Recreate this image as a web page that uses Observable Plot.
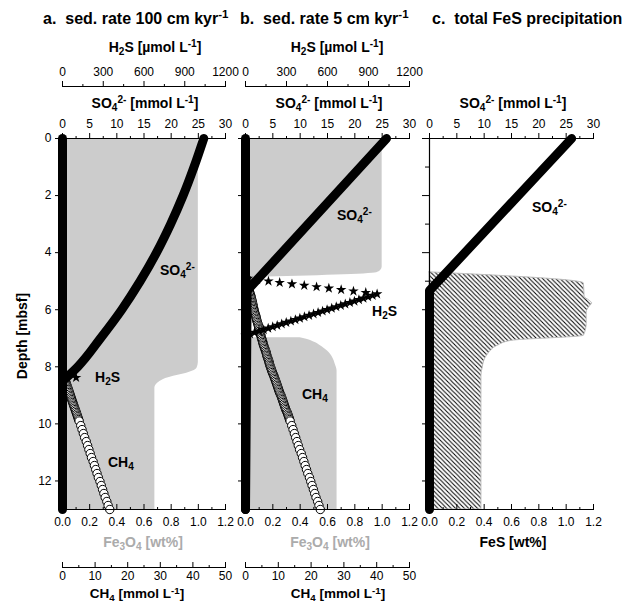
<!DOCTYPE html>
<html><head><meta charset="utf-8">
<script src="https://cdn.jsdelivr.net/npm/d3@7"></script>
<script src="https://cdn.jsdelivr.net/npm/@observablehq/plot@0.6"></script>
<style>
body{margin:0;background:#fff;}
#chart{position:relative;width:629px;height:605px;overflow:hidden;font-family:"Liberation Sans",Arial,sans-serif;}
#chart svg{position:absolute;left:0;top:0;}
.lbl{position:absolute;white-space:nowrap;line-height:1;}
.lbl sub{font-size:0.72em;position:relative;top:0.28em;vertical-align:baseline;line-height:0;}
.lbl sup{font-size:0.72em;position:relative;top:-0.5em;vertical-align:baseline;line-height:0;}
</style></head><body><div id="chart"></div>
<script>
// ---------- data (depth [mbsf], value) ----------
// panel a: sed. rate 100 cm/kyr
const so4A = [[0,26.0],[1,24.2],[2,22.2],[3,19.9],[4,17.3],[5,14.3],[6,10.9],[7,7.0],[8,2.8],[8.4,0.6]];
const fe3o4A = [[0,1.0],[7.85,1.0],[8.05,0.99],[8.15,0.96],[8.45,0.74],[8.58,0.70],[8.75,0.68],[13,0.68]];
const h2sA = [[8.38,100]];
const h2sZero = [[0,0],[13,0]];
const ch4A = [[8.35,0.45],[8.40,0.60],[8.45,0.75],[8.50,0.90],[8.55,1.05],[8.60,1.20],[8.65,1.35],[8.70,1.50],[8.75,1.65],[8.80,1.80],[8.85,1.95],[8.90,2.10],[8.95,2.25],[9.00,2.40],[9.05,2.55],[9.10,2.70],[9.15,2.85],[9.20,3.00],[9.25,3.15],[9.30,3.30],[9.35,3.45],[9.40,3.60],[9.45,3.75],[9.50,3.90],[9.55,4.05],[9.60,4.20],[9.65,4.35],[9.70,4.50],[9.75,4.65],[9.80,4.80],[9.85,4.95],[9.90,5.10],
  [10.06,5.6],[10.20,6.0],[10.34,6.4],[10.48,6.8],[10.62,7.3],[10.76,7.7],[10.90,8.1],[11.04,8.5],[11.18,8.9],[11.32,9.4],[11.46,9.8],[11.60,10.2],[11.74,10.6],[11.88,11.0],[12.02,11.5],[12.16,11.9],[12.30,12.3],[12.44,12.7],[12.58,13.1],[12.72,13.6],[12.86,14.0],[13.00,14.5]];
// panel b: sed. rate 5 cm/kyr
const so4B = [[0,25.8],[5.33,0.3],[13,0]];
const fe3o4Bupper = [[0,1.0],[4.5,1.0],[4.62,0.99],[4.70,0.96],[4.87,0.0]];
const fe3o4Blower = [[6.98,0.40],[7.05,0.46],[7.15,0.51],[7.3,0.56],[7.45,0.60],[7.7,0.64],[7.9,0.656],[8.15,0.67],[13,0.67]];
const h2sB = [[4.90,20],[4.95,85],[5.00,168],[5.05,250],[5.10,340],[5.15,430],[5.20,520],[5.25,610],[5.30,700],[5.35,790],[5.40,880],[5.45,963],
  [5.50,930],[5.55,897],[5.60,863],[5.65,830],[5.70,797],[5.75,764],[5.80,730],[5.85,697],[5.90,664],[5.95,631],[6.00,597],[6.05,564],[6.10,531],[6.15,498],[6.20,465],[6.25,431],[6.30,398],[6.35,365],[6.40,332],[6.45,298],[6.50,265],[6.55,232],[6.60,199],[6.65,166],[6.70,133],[6.75,99],[6.80,66],[6.85,33],[6.90,0]];
const ch4B = [[4.90,0.3],[4.95,0.4],[5.00,0.5],[5.05,0.6],[5.10,0.7],[5.15,0.8],[5.20,0.9],[5.25,1.0],[5.30,1.1],[5.35,1.2],[5.40,1.3],[5.45,1.45],[5.50,1.6],[5.55,1.7],[5.60,1.8],[5.65,1.9],[5.70,2.0],[5.75,2.1],[5.80,2.2],[5.85,2.3],[5.90,2.4],[5.95,2.5],
  [6.00,2.6],[6.05,2.7],[6.10,2.8],[6.15,2.95],[6.20,3.1],[6.25,3.2],[6.30,3.3],[6.35,3.4],[6.40,3.5],[6.45,3.65],[6.50,3.8],[6.55,3.9],[6.60,4.0],[6.65,4.1],[6.70,4.2],[6.75,4.3],[6.80,4.4],[6.85,4.55],[6.90,4.7],[6.95,4.8],
  [7.00,4.9],[7.05,5.05],[7.10,5.2],[7.15,5.3],[7.20,5.4],[7.25,5.55],[7.30,5.7],[7.35,5.85],[7.40,6.0],[7.45,6.15],[7.50,6.3],[7.55,6.4],[7.60,6.5],[7.65,6.65],[7.70,6.8],[7.75,6.95],[7.80,7.1],[7.85,7.2],[7.90,7.3],[7.95,7.45],
  [8.00,7.6],[8.05,7.75],[8.10,7.9],[8.15,8.05],[8.20,8.2],[8.25,8.4],[8.30,8.6],[8.35,8.75],[8.40,8.9],[8.45,9.05],[8.50,9.2],[8.55,9.35],[8.60,9.5],[8.65,9.65],[8.70,9.8],[8.75,9.95],[8.80,10.1],[8.85,10.25],[8.90,10.4],[8.95,10.6],
  [9.00,10.8],[9.05,10.95],[9.10,11.1],[9.15,11.25],[9.20,11.4],[9.25,11.55],[9.30,11.7],[9.35,11.85],[9.40,12.0],[9.45,12.15],[9.50,12.3],[9.55,12.5],[9.60,12.7],[9.65,12.85],[9.70,13.0],[9.75,13.15],[9.80,13.3],[9.85,13.45],[9.90,13.6],
  [10.06,14.1],[10.20,14.5],[10.34,14.9],[10.48,15.3],[10.62,15.7],[10.76,16.1],[10.90,16.5],[11.04,17.0],[11.18,17.4],[11.32,17.8],[11.46,18.2],[11.60,18.6],[11.74,19.0],[11.88,19.5],[12.02,19.9],[12.16,20.3],[12.30,20.7],[12.44,21.1],[12.58,21.5],[12.72,22.0],[12.86,22.4],[13.00,22.8]];
// panel c: total FeS precipitation
const so4C = [[0,26.0],[5.33,0],[13,0]];
const fesC = [[4.69,0],[5.08,1.13],[5.55,1.135],[5.68,1.17],[5.78,1.19],[5.9,1.17],[6.1,1.15],[6.5,1.15],[6.91,1.13],[7.09,0.60],[7.26,0.50],[7.55,0.43],[7.8,0.40],[8.02,0.39],[8.3,0.38],[13,0.38]];

// ---------- ticks ----------
const depthMajor = [0,2,4,6,8,10,12], depthMinor = [1,3,5,7,9,11];
const so4Major = [0,5,10,15,20,25,30], so4Minor = [2.5,7.5,12.5,17.5,22.5,27.5];
const h2sMajor = [0,300,600,900,1200], h2sMinor = [150,450,750,1050];
const wtMajor = [0,0.2,0.4,0.6,0.8,1.0,1.2], wtMinor = [0.1,0.3,0.5,0.7,0.9,1.1];
const ch4Major = [0,10,20,30,40,50], ch4Minor = [5,15,25,35,45];

// ---------- layout ----------
const W = 629, H = 605, TOP = 138, BOT = 509;
const PX = {a: [62, 225], b: [245, 409], c: [429, 593]};
const chart = document.getElementById("chart");
const baseStyle = {background: "transparent", fontFamily: '"Liberation Sans", Arial, sans-serif', fontSize: "12px", color: "black", overflow: "visible"};
const D = d => d[0], V = d => d[1];

function add(svg) { chart.appendChild(svg); return svg; }
function dataLayer(px, domain, marks) {
  return add(Plot.plot({width: W, height: H, marginLeft: px[0], marginRight: W - px[1], marginTop: TOP, marginBottom: H - BOT,
    x: {domain, axis: null}, y: {domain: [0, 13], reverse: true, axis: null}, style: baseStyle, marks}));
}
function axisLayer(px, domain, yPos, major, minor, format, below, pad = 8) {
  const marks = [
    Plot.ruleY([0], {stroke: "black", strokeWidth: 1.2}),
    Plot.axisX(major, {anchor: "top", tickSize: 6, tickPadding: 5, label: null, tickFormat: below ? () => "" : format}),
    Plot.axisX(minor, {anchor: "top", tickSize: 3, label: null, tickFormat: () => ""})
  ];
  if (below) marks.push(Plot.axisX(major, {anchor: "bottom", tickSize: 0, tickPadding: pad, label: null, tickFormat: format}));
  return add(Plot.plot({width: W, height: H, marginLeft: px[0], marginRight: W - px[1], marginTop: yPos, marginBottom: H - yPos,
    x: {domain, axis: null}, y: {domain: [0, 1], range: [yPos, yPos], axis: null}, style: baseStyle, marks}));
}
function depthAxis(labels) {
  return [
    Plot.ruleX([0], {stroke: "black", strokeWidth: 1.2}),
    Plot.axisY(depthMajor, {anchor: "left", tickSize: 7, tickPadding: 4, label: null, tickFormat: labels ? d => String(d) : () => ""}),
    Plot.axisY(depthMinor, {anchor: "left", tickSize: 4, label: null, tickFormat: () => ""})
  ];
}
const fmt1 = d3.format(".1f"), fmt0 = d => String(d);
const thick = {stroke: "black", strokeWidth: 9, strokeLinecap: "round", strokeLinejoin: "round"};
const stars = {symbol: "star", r: 3.3, fill: "black", stroke: "none"};
const circles = {r: 4.2, fill: "white", stroke: "black", strokeWidth: 1};

// ----- panel a -----
dataLayer(PX.a, [0, 1.2], [Plot.areaX(fe3o4A, {y: D, x: V, fill: "#cccccc", curve: "monotone-y"}), ...depthAxis(true)]);
dataLayer(PX.a, [0, 50], [Plot.dot(ch4A, {y: D, x: V, ...circles})]);
dataLayer(PX.a, [0, 1200], [Plot.line(h2sZero, {y: D, x: V, ...thick}), Plot.dot(h2sA, {y: D, x: V, ...stars})]);
dataLayer(PX.a, [0, 30], [Plot.line(so4A, {y: D, x: V, ...thick, curve: "monotone-y"})]);
// ----- panel b -----
dataLayer(PX.b, [0, 1.2], [
  Plot.areaX(fe3o4Bupper, {y: D, x: V, fill: "#cccccc", curve: "monotone-y"}),
  Plot.areaX(fe3o4Blower, {y: D, x: V, fill: "#cccccc", curve: "monotone-y"}),
  ...depthAxis(false)]);
dataLayer(PX.b, [0, 50], [Plot.dot(ch4B, {y: D, x: V, ...circles})]);
dataLayer(PX.b, [0, 1200], [Plot.line(h2sZero, {y: D, x: V, ...thick}), Plot.dot(h2sB, {y: D, x: V, ...stars})]);
dataLayer(PX.b, [0, 30], [Plot.line(so4B, {y: D, x: V, ...thick})]);
// ----- panel c -----
const svgC = dataLayer(PX.c, [0, 1.2], [
  Plot.areaX(fesC, {y: D, x: V, fill: "url(#hatch)", stroke: "#bdbdbd", strokeWidth: 1, curve: "monotone-y"}),
  ...depthAxis(false)]);
d3.select(svgC).insert("defs", ":first-child").html(
  '<pattern id="hatch" patternUnits="userSpaceOnUse" width="4.4" height="4.4"><path d="M-1,-1L5.4,5.4M-1,3.4L1,5.4M3.4,-1L5.4,1" stroke="black" stroke-width="1"/></pattern>');
dataLayer(PX.c, [0, 30], [Plot.line(so4C, {y: D, x: V, ...thick})]);

// ----- axes -----
for (const p of ["a", "b"]) {
  axisLayer(PX[p], [0, 1200], 86, h2sMajor, h2sMinor, fmt0, false);
  axisLayer(PX[p], [0, 1.2], BOT, wtMajor, wtMinor, fmt1, true);
  axisLayer(PX[p], [0, 50], 567, ch4Major, ch4Minor, fmt0, true, 4);
}
for (const p of ["a", "b", "c"]) axisLayer(PX[p], [0, 30], TOP, so4Major, so4Minor, fmt0, false);
axisLayer(PX.c, [0, 1.2], BOT, wtMajor, wtMinor, fmt1, true);

// ---------- text ----------
function txt(html, x, yc, {size = 14, align = "center", color = "#000", weight = "bold", rotate = false} = {}) {
  const el = document.createElement("div");
  el.className = "lbl";
  el.innerHTML = html;
  Object.assign(el.style, {fontSize: size + "px", color, fontWeight: weight, left: x + "px"});
  if (rotate) {
    el.style.top = yc + "px";
    el.style.transform = "translate(-50%,-50%) rotate(-90deg)";
  } else {
    el.style.top = (yc - 0.49 * size) + "px";
    el.style.transform = align === "center" ? "translateX(-50%)" : align === "end" ? "translateX(-100%)" : "none";
  }
  chart.appendChild(el);
}
const SO4 = "SO<sub>4</sub><sup>2-</sup>";
const titles = ["a.&nbsp; sed. rate 100 cm kyr<sup>-1</sup>", "b.&nbsp; sed. rate 5 cm kyr<sup>-1</sup>", "c.&nbsp; total FeS precipitation"];
txt(titles[0], 43, 19, {size: 16, align: "start"});
txt(titles[1], 240, 19, {size: 16, align: "start"});
txt(titles[2], 432, 19, {size: 16, align: "start"});
txt("H<sub>2</sub>S [µmol L<sup>-1</sup>]", 155, 47);
txt("H<sub>2</sub>S [µmol L<sup>-1</sup>]", 337, 47);
txt(SO4 + " [mmol L<sup>-1</sup>]", 145, 103);
txt(SO4 + " [mmol L<sup>-1</sup>]", 329, 103);
txt(SO4 + " [mmol L<sup>-1</sup>]", 513, 103);
txt("Fe<sub>3</sub>O<sub>4</sub> [wt%]", 143, 542, {color: "#ababab"});
txt("Fe<sub>3</sub>O<sub>4</sub> [wt%]", 330, 542, {color: "#ababab"});
txt("FeS [wt%]", 513, 542);
txt("CH<sub>4</sub> [mmol L<sup>-1</sup>]", 137, 594, {size: 13.5});
txt("CH<sub>4</sub> [mmol L<sup>-1</sup>]", 338, 594, {size: 13.5});
txt("Depth [mbsf]", 22, 336, {rotate: true});
// in-panel labels
txt(SO4, 160, 270, {size: 14, align: "start"});
txt(SO4, 337, 215, {size: 14, align: "start"});
txt(SO4, 532, 207, {size: 14, align: "start"});
txt("H<sub>2</sub>S", 95, 377, {size: 14, align: "start"});
txt("H<sub>2</sub>S", 372, 311, {size: 14, align: "start"});
txt("CH<sub>4</sub>", 108, 462, {size: 14, align: "start"});
txt("CH<sub>4</sub>", 302, 394, {size: 14, align: "start"});
</script></body></html>
